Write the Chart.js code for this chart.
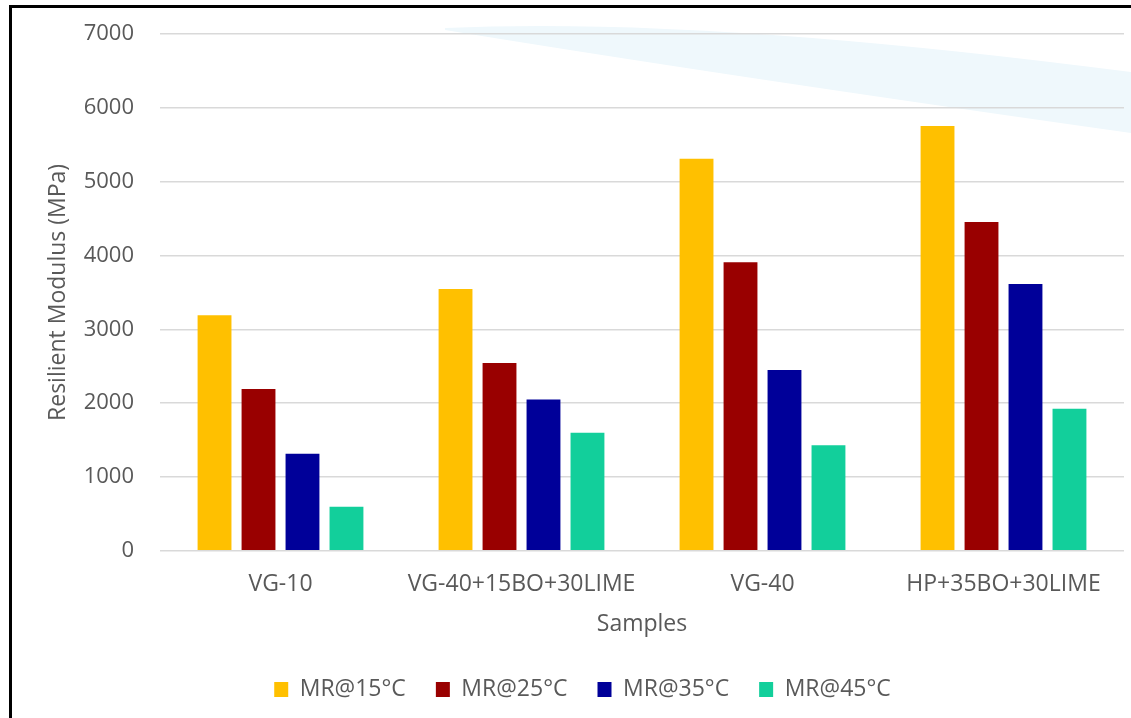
<!DOCTYPE html>
<html>
<head>
<meta charset="utf-8">
<script src="https://cdn.jsdelivr.net/npm/chart.js@4.4.1/dist/chart.umd.min.js"></script>
<style>
  html, body { margin: 0; padding: 0; background: #fff; }
  #frame {
    position: absolute; left: 9px; top: 5px; width: 1130px; height: 720px;
    border-left: 3px solid #000; border-top: 3px solid #000;
  }
  #wrap { position: absolute; left: 0; top: 0; width: 1131px; height: 718px; }
</style>
</head>
<body>
<div id="frame"></div>
<div id="wrap"><canvas id="grafica"></canvas></div>
<script>
// Categorías y series
const muestras = ['VG-10', 'VG-40+15BO+30LIME', 'VG-40', 'HP+35BO+30LIME'];
const mr15 = [3190, 3545, 5310, 5755];
const mr25 = [2190, 2545, 3910, 4455];
const mr35 = [1315, 2050, 2450, 3615];
const mr45 = [595, 1600, 1430, 1925];
const ticksY = [0, 1000, 2000, 3000, 4000, 5000, 6000, 7000];

const gris = '#595959';
const fuente = "'Open Sans', sans-serif";

// fondo decorativo (franja celeste arriba a la derecha)
const franja = {
    id: 'franja',
    beforeDraw(chart) {
        const ctx = chart.ctx;
        ctx.save();
        ctx.fillStyle = '#EFF8FC';
        ctx.beginPath();
        ctx.moveTo(445, 28);
        ctx.quadraticCurveTo(700, 16, 1131, 72);
        ctx.lineTo(1131, 133);
        ctx.quadraticCurveTo(720, 75, 445, 30);
        ctx.closePath();
        ctx.fill();
        ctx.restore();
    }
};

const serie = (label, data, color) => ({
    label, data,
    backgroundColor: color,
    borderWidth: 0,
    categoryPercentage: 0.73,
    barPercentage: 0.77
});

new Chart(document.getElementById('grafica'), {
    type: 'bar',
    data: {
        labels: muestras,
        datasets: [
            serie('MR@15°C', mr15, '#FFC000'),
            serie('MR@25°C', mr25, '#990000'),
            serie('MR@35°C', mr35, '#000099'),
            serie('MR@45°C', mr45, '#12CF9B')
        ]
    },
    options: {
        responsive: true,
        maintainAspectRatio: false,
        animation: false,
        layout: { padding: { left: 41, right: 7, top: 34, bottom: 7 } },
        plugins: {
            tooltip: { enabled: false },
            legend: {
                position: 'bottom',
                labels: {
                    color: gris,
                    font: { family: fuente, size: 23 },
                    boxWidth: 14,
                    boxHeight: 15,
                    padding: 30
                }
            }
        },
        scales: {
            x: {
                grid: { display: false },
                border: { display: false },
                ticks: { color: gris, font: { family: fuente, size: 23 }, padding: 12, maxRotation: 0 },
                title: {
                    display: true, text: 'Samples', color: gris,
                    font: { family: fuente, size: 23 }, padding: { top: 0, bottom: 10 }
                }
            },
            y: {
                min: 0,
                max: 7000,
                afterFit(scale) {
                    scale.width = 119;
                    scale.paddingTop = 0;
                    scale.paddingBottom = 0;
                },
                afterBuildTicks(scale) { scale.ticks = ticksY.map(v => ({ value: v })); },
                grid: { color: '#D9D9D9', lineWidth: 1.5, drawTicks: false },
                border: { display: false },
                ticks: {
                    color: gris, font: { family: fuente, size: 22 }, padding: 26,
                    callback: v => String(v)
                },
                title: {
                    display: true, text: 'Resilient Modulus (MPa)', color: gris,
                    font: { family: fuente, size: 23 }, padding: 4
                }
            }
        }
    },
    plugins: [franja]
});
</script>
</body>
</html>
